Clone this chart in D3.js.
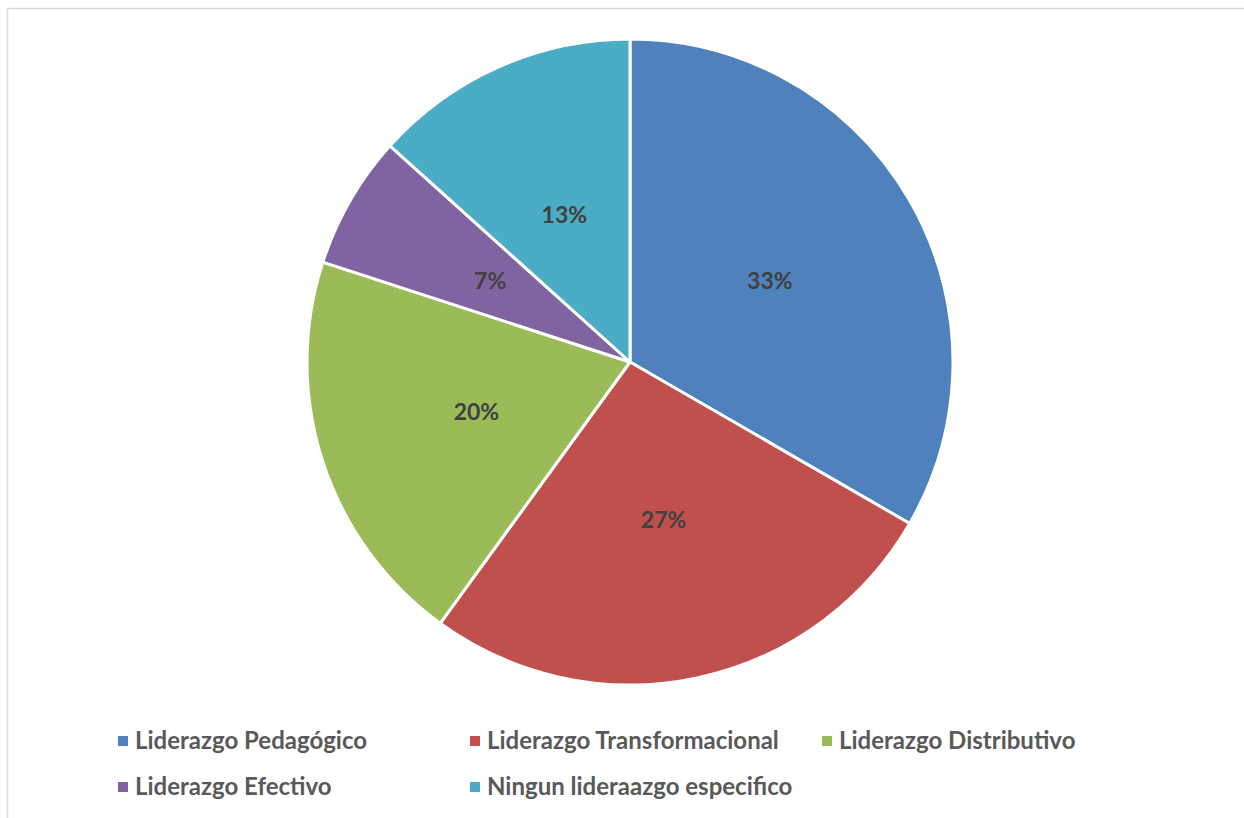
<!DOCTYPE html>
<html>
<head>
<meta charset="utf-8">
<script src="https://cdn.jsdelivr.net/npm/d3@7"></script>
<style>
  body { margin: 0; background: #fff; }
  text { font-family: Lato, "Open Sans", sans-serif; font-weight: bold; }
</style>
</head>
<body>
<div class="container"></div>
<script>
const categories = ["Liderazgo Pedagógico", "Liderazgo Transformacional", "Liderazgo Distributivo", "Liderazgo Efectivo", "Ningun lideraazgo especifico"]
const counts = [5, 4, 3, 1, 2]
const percentLabels = ["33%", "27%", "20%", "7%", "13%"]
const colors = ["#4F81BD", "#C0504D", "#9BBB59", "#8064A2", "#4BACC6"]

const data = categories.map((c, i) => ({name: c, value: counts[i], label: percentLabels[i], color: colors[i]}))

let outerWidth = 1244
let outerHeight = 818
let cx = 630, cy = 362, radius = 323

const svg = d3.select(".container")
    .append("svg")
    .attr("width", outerWidth)
    .attr("height", outerHeight)

// chart border
svg.append("rect")
    .attr("x", 7.5)
    .attr("y", 8.5)
    .attr("width", outerWidth + 10)
    .attr("height", outerHeight + 10)
    .attr("fill", "none")
    .attr("stroke", "#d9d9d9")
    .attr("stroke-width", 1.5)

const pie = d3.pie()
    .sort(null)
    .value(d => d.value)

const arc = d3.arc()
    .innerRadius(0)
    .outerRadius(radius)

const labelArc = d3.arc()
    .innerRadius(radius * 0.5)
    .outerRadius(radius * 0.5)

const g = svg.append("g")
    .attr("transform", `translate(${cx}, ${cy})`)

g.selectAll(".slice")
    .data(pie(data))
    .enter()
    .append("path")
    .attr("class", "slice")
    .attr("d", arc)
    .attr("fill", d => d.data.color)
    .attr("stroke", "white")
    .attr("stroke-width", 3)
    .attr("stroke-linejoin", "round")

g.selectAll(".lbl")
    .data(pie(data))
    .enter()
    .append("text")
    .attr("class", "lbl")
    .text(d => d.data.label)
    .attr("transform", d => `translate(${labelArc.centroid(d)})`)
    .attr("text-anchor", "middle")
    .attr("dy", "0.35em")
    .attr("font-size", 23)
    .attr("fill", "#404040")

// Legend
const legendX = d3.scalePoint()
    .domain([0, 1, 2])
    .range([118, 822])
const legendY = d3.scalePoint()
    .domain([0, 1])
    .range([741, 787])

const legend = svg.selectAll(".legend")
    .data(data)
    .enter()
    .append("g")
    .attr("class", "legend")
    .attr("transform", (d, i) => `translate(${legendX(i % 3)}, ${legendY(Math.floor(i / 3))})`)

legend.append("rect")
    .attr("x", 0)
    .attr("y", -5)
    .attr("width", 10)
    .attr("height", 10)
    .attr("fill", d => d.color)

legend.append("text")
    .text(d => d.name)
    .attr("x", 17)
    .attr("dy", "0.35em")
    .attr("font-size", 24)
    .attr("fill", "#595959")
</script>
</body>
</html>
